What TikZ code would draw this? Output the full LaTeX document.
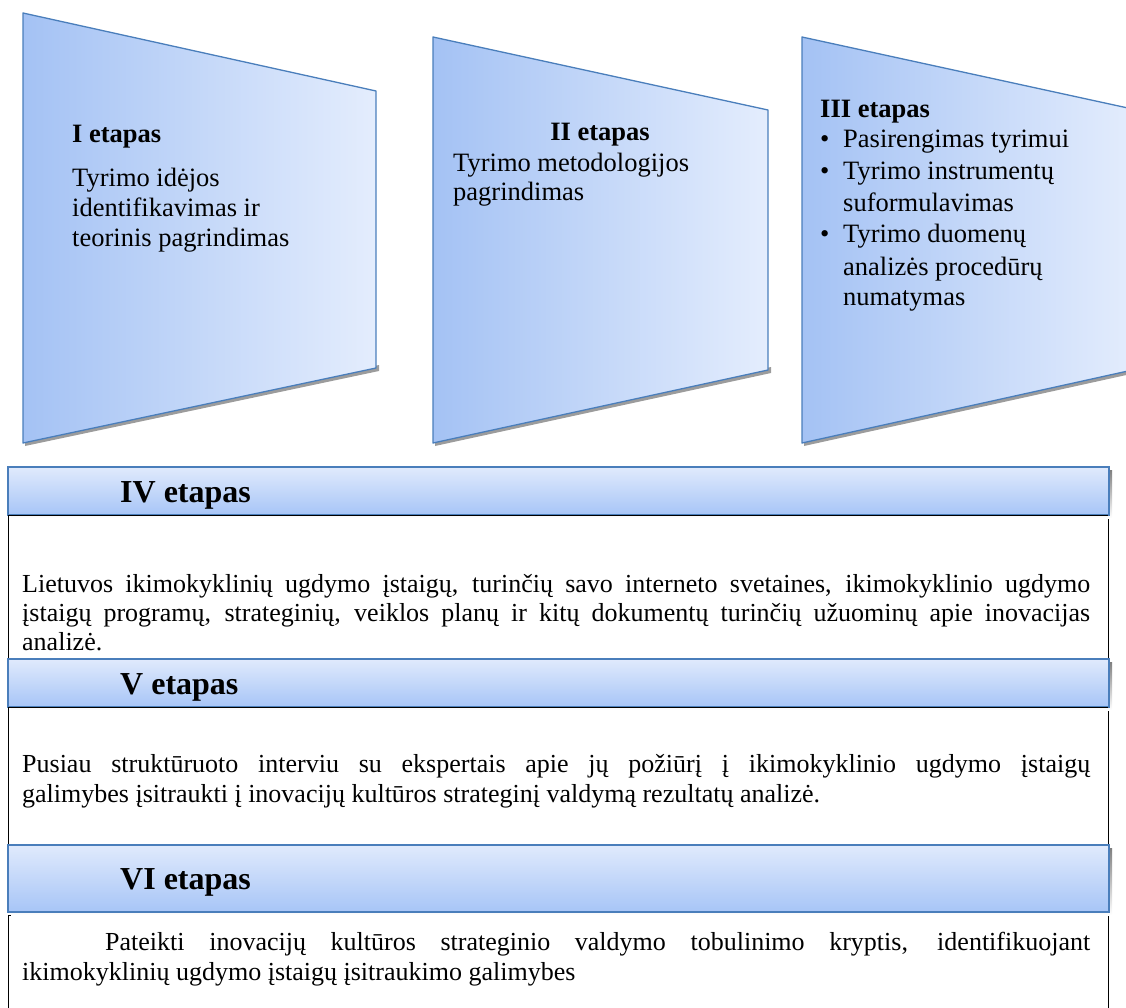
\documentclass[tikz,border=0pt]{standalone}
\usepackage{fontspec}
\setmainfont{Liberation Serif}
\definecolor{trapL}{HTML}{A4C2F4}
\definecolor{trapM}{HTML}{C4D8FB}
\definecolor{trapR}{HTML}{E4EDFD}
\definecolor{hdrT}{HTML}{E0EAFC}
\definecolor{hdrB}{HTML}{A7C5F7}
\definecolor{edge}{HTML}{4A7EBB}
\definecolor{shade}{HTML}{9C9C9C}
\begin{document}
\begin{tikzpicture}[x=1pt,y=-1pt,
  stagefill/.style={left color=trapL, middle color=trapM, right color=trapR},
  stageline/.style={draw=edge, line width=1.3pt, line join=round},
  stageshadow/.style={fill=shade, draw=none},
  hdrfill/.style={top color=hdrT, bottom color=hdrB},
  hdrline/.style={draw=edge, line width=1.3pt},
  txtbox/.style={draw=black, fill=white, line width=1pt},
  trtxt/.style={inner sep=0pt, anchor=base west, font=\fontsize{26.5}{30}\selectfont},
  trhead/.style={trtxt, font=\fontsize{26.5}{30}\selectfont\bfseries},
  hdrtxt/.style={inner sep=0pt, anchor=base west, font=\fontsize{32}{36}\selectfont\bfseries},
  bartxt/.style={inner sep=0pt, anchor=north west, text width=1068pt, align=justify,
    font=\fontsize{26}{30}\selectfont},
]
\useasboundingbox (0,0) rectangle (1126,1008);
\clip (0,0) rectangle (1126,1008);

% ---------- three stage panels ----------
% panel I
\fill[stageshadow] (25,446) -- (379,371) -- (379,365) -- (25,440) -- cycle;
\shade[stagefill] (23,13) -- (376,91) -- (376,368) -- (23,443) -- cycle;
\draw[stageline] (23,13) -- (376,91) -- (376,368) -- (23,443) -- cycle;
% panel II
\fill[stageshadow] (435,446) -- (771,373) -- (771,367) -- (435,440) -- cycle;
\shade[stagefill] (433,37) -- (768,110) -- (768,370) -- (433,443) -- cycle;
\draw[stageline] (433,37) -- (768,110) -- (768,370) -- (433,443) -- cycle;
% panel III
\fill[stageshadow] (804,446) -- (1140,372) -- (1140,366) -- (804,440) -- cycle;
\shade[stagefill] (802,37) -- (1137,110) -- (1137,369) -- (802,443) -- cycle;
\draw[stageline] (802,37) -- (1137,110) -- (1137,369) -- (802,443) -- cycle;

% panel texts
\node[trhead] (p1h) at (72,143) {I etapas};
\node[trtxt] (p1a) at (72,187) {Tyrimo idėjos};
\node[trtxt] (p1b) at (72,217) {identifikavimas ir};
\node[trtxt] (p1c) at (72,247) {teorinis pagrindimas};

\node[trhead, anchor=base] (p2h) at (600,141) {II etapas};
\node[trtxt] (p2a) at (453,172) {Tyrimo metodologijos};
\node[trtxt] (p2b) at (453,201) {pagrindimas};

\node[trhead] (p3h) at (820,118) {III etapas};
\node[trtxt] (b1) at (820,148) {•};
\node[trtxt] (p3a) at (843,148) {Pasirengimas tyrimui};
\node[trtxt] (b2) at (820,180) {•};
\node[trtxt] (p3b) at (843,180) {Tyrimo instrumentų};
\node[trtxt] (p3c) at (843,212) {suformulavimas};
\node[trtxt] (b3) at (820,243) {•};
\node[trtxt] (p3d) at (843,243) {Tyrimo duomenų};
\node[trtxt] (p3e) at (843,275) {analizės procedūrų};
\node[trtxt] (p3f) at (843,305) {numatymas};

% ---------- stage bars with text boxes ----------
% text boxes
\draw[txtbox] (8,515) rectangle (1108,659);
\draw[txtbox] (8,707) rectangle (1108,844);
\draw[txtbox] (8,915) rectangle (1108,1015);

% header shadows
\fill[shade] (11,470) rectangle (1112,518);
\fill[shade] (11,662) rectangle (1112,710);
\fill[shade] (11,848) rectangle (1112,915);

% headers
\shade[hdrfill] (8,467) rectangle (1109,515);
\draw[hdrline] (8,467) rectangle (1109,515);
\shade[hdrfill] (8,659) rectangle (1109,707);
\draw[hdrline] (8,659) rectangle (1109,707);
\shade[hdrfill] (8,845) rectangle (1109,912);
\draw[hdrline] (8,845) rectangle (1109,912);

% box tops drawn again over the header shadows
\draw[black, line width=1pt] (8,515) -- (1108,515);
\draw[black, line width=1pt] (8,707) -- (1108,707);

\node[hdrtxt] (h4) at (120,502) {IV etapas};
\node[hdrtxt] (h5) at (120,694) {V etapas};
\node[hdrtxt] (h6) at (120,889) {VI etapas};

\node[bartxt, font=\fontsize{26}{29}\selectfont] (t4) at (22,571.7) {\strut Lietuvos ikimokyklinių ugdymo įstaigų, turinčių savo interneto svetaines, ikimokyklinio ugdymo\linebreak
įstaigų programų, strateginių, veiklos planų ir kitų dokumentų turinčių užuominų apie inovacijas\linebreak
analizė.};

\node[bartxt] (t5) at (22,751) {\strut Pusiau struktūruoto interviu su ekspertais apie jų požiūrį į ikimokyklinio ugdymo įstaigų\linebreak
galimybes įsitraukti į inovacijų kultūros strateginį valdymą rezultatų analizė.};

\node[bartxt] (t6) at (22,929) {\strut\hspace*{83pt}Pateikti inovacijų kultūros strateginio valdymo tobulinimo kryptis, identifikuojant\linebreak
ikimokyklinių ugdymo įstaigų įsitraukimo galimybes};
\end{tikzpicture}
\end{document}
